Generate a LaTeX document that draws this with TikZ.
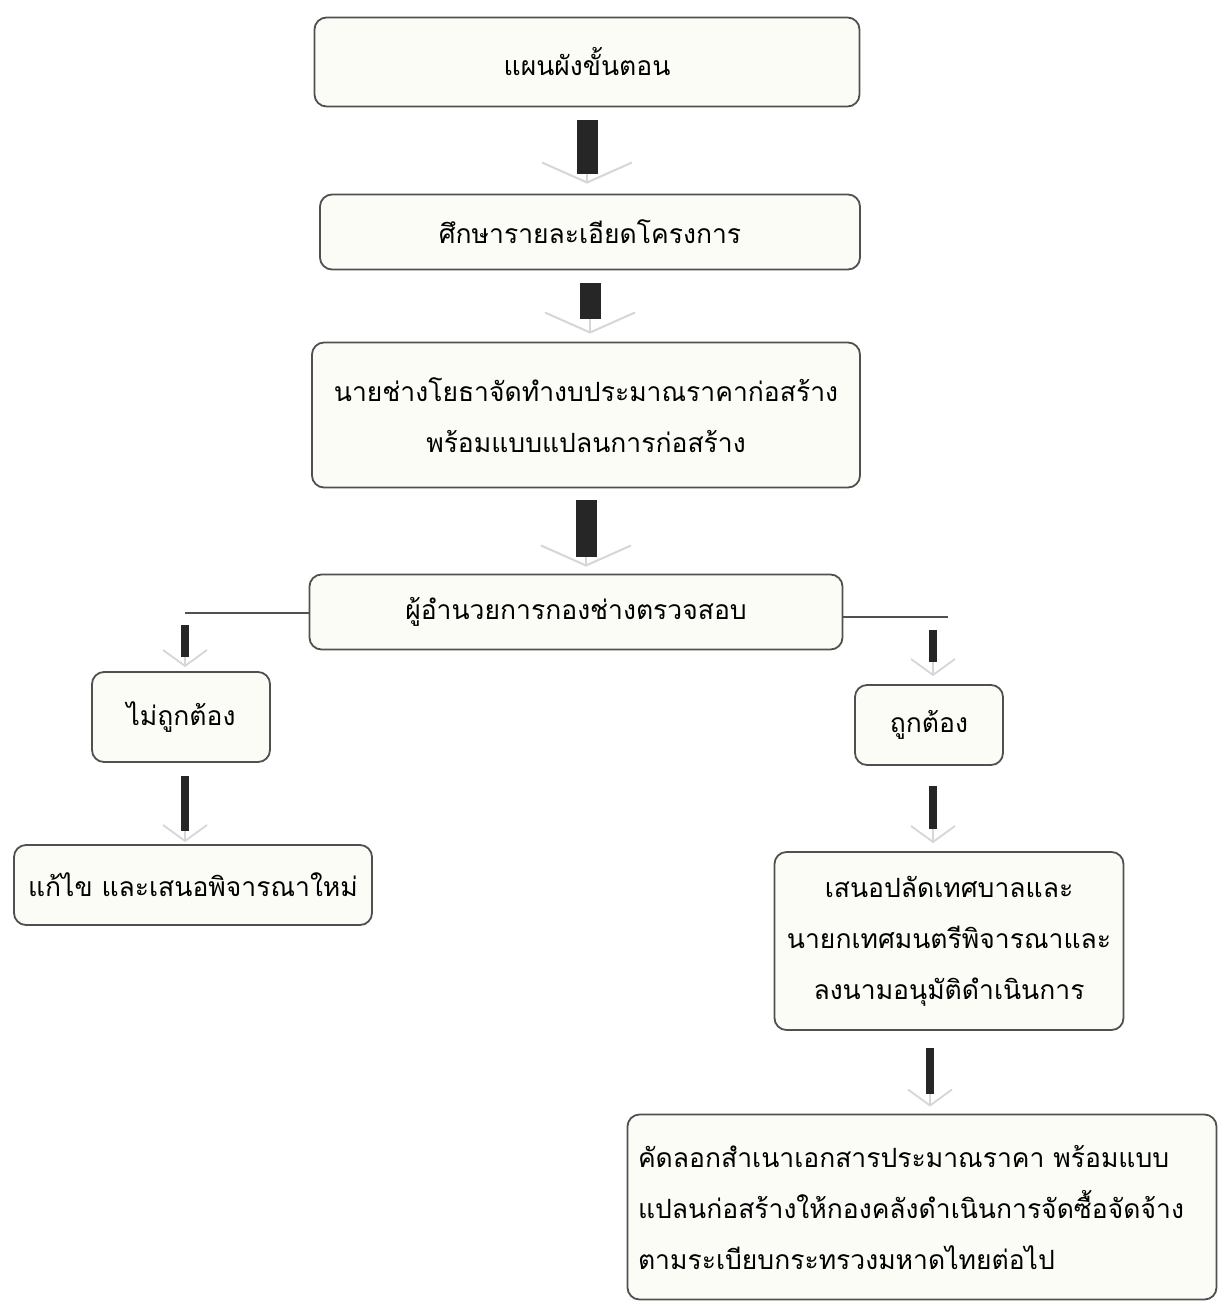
\documentclass[tikz,border=0pt]{standalone}
\usepackage{fontspec}
\newfontfamily\thai[Script=Thai]{Loma}
\usetikzlibrary{arrows.meta}
\definecolor{boxfill}{HTML}{FCFCF6}
\definecolor{boxline}{HTML}{505050}
\definecolor{chevgray}{HTML}{D6D6D6}
\tikzset{
  box/.style={draw=boxline, line width=1.8pt, fill=boxfill, rounded corners=12pt,
    font=\thai\fontsize{26.5}{51}\selectfont, align=center, inner sep=0pt},
  bigbar/.style={draw=black!85, line width=21pt},
  smallbar/.style={draw=black!85, line width=7.5pt},
  bigchev/.style={draw=chevgray, line width=1.5pt, -{Straight Barb[length=20pt,width=90pt,line width=2pt]}},
  smallchev/.style={draw=chevgray, line width=1.2pt, -{Straight Barb[length=16pt,width=44pt,line width=1.8pt]}},
  joinline/.style={draw=boxline, line width=1.8pt}
}
\begin{document}
\begin{tikzpicture}[x=1pt,y=-1pt]
\useasboundingbox (0,0) rectangle (1218,1309);
\fill[white] (0,0) rectangle (1218,1309);

\node[box, minimum width=545pt, minimum height=89pt] (b1) at (587,62) {แผนผังขั้นตอน};
\node[box, minimum width=540pt, minimum height=75pt] (b2) at (590,232) {ศึกษารายละเอียดโครงการ};
\node[box, minimum width=548pt, minimum height=145pt] (b3) at (586,415) {นายช่างโยธาจัดทำงบประมาณราคาก่อสร้าง\\พร้อมแบบแปลนการก่อสร้าง};
\node[box, minimum width=533pt, minimum height=75pt] (b4) at (576,612) {ผู้อำนวยการกองช่างตรวจสอบ};
\node[box, minimum width=178pt, minimum height=90pt] (b5) at (181,717) {ไม่ถูกต้อง};
\node[box, minimum width=358pt, minimum height=80pt] (b6) at (193,885) {แก้ไข และเสนอพิจารณาใหม่};
\node[box, minimum width=148pt, minimum height=80pt] (b7) at (929,725) {ถูกต้อง};
\node[box, minimum width=349pt, minimum height=178pt] (b8) at (949,941) {เสนอปลัดเทศบาลและ\\นายกเทศมนตรีพิจารณาและ\\ลงนามอนุมัติดำเนินการ};
\node[box, minimum width=589pt, minimum height=185pt, align=left, text width=568pt] (b9) at (922,1207) {คัดลอกสำเนาเอกสารประมาณราคา พร้อมแบบ\\แปลนก่อสร้างให้กองคลังดำเนินการจัดซื้อจัดจ้าง\\ตามระเบียบกระทรวงมหาดไทยต่อไป};

\coordinate (lj) at (185,613);
\coordinate (rj) at (948,617);
\coordinate (rb) at (933,617);
\coordinate (lb) at (930,1070);

% big arrows
\draw[bigchev, shorten <=13pt, shorten >=10pt] (b1.south) -- (b1.south |- b2.north);
\draw[bigbar, shorten <=13pt, shorten >=20pt] (b1.south) -- (b1.south |- b2.north);
\draw[bigchev, shorten <=13pt, shorten >=8pt] (b2.south) -- (b2.south |- b3.north);
\draw[bigbar, shorten <=13pt, shorten >=23pt] (b2.south) -- (b2.south |- b3.north);
\draw[bigchev, shorten <=12pt, shorten >=7pt] (b3.south) -- (b3.south |- b4.north);
\draw[bigbar, shorten <=12pt, shorten >=17pt] (b3.south) -- (b3.south |- b4.north);

% split
\draw[joinline] (b4.west |- lj) -- (lj);
\draw[joinline] (b4.east |- rj) -- (rj);

\draw[smallchev, shorten <=12pt, shorten >=4pt] (lj) -- (lj |- b5.north);
\draw[smallbar, shorten <=12pt, shorten >=14pt] (lj) -- (lj |- b5.north);
\draw[smallchev, shorten <=13pt, shorten >=8pt] (rb) -- (rb |- b7.north);
\draw[smallbar, shorten <=13pt, shorten >=22pt] (rb) -- (rb |- b7.north);

\draw[smallchev, shorten <=13pt, shorten >=2pt] (b5.south -| lj) -- (b6.north -| lj);
\draw[smallbar, shorten <=13pt, shorten >=13pt] (b5.south -| lj) -- (b6.north -| lj);
\draw[smallchev, shorten <=20pt, shorten >=8pt] (b7.south -| rb) -- (b8.north -| rb);
\draw[smallbar, shorten <=20pt, shorten >=22pt] (b7.south -| rb) -- (b8.north -| rb);
\draw[smallchev, shorten <=17pt, shorten >=7pt] (b8.south -| lb) -- (b9.north -| lb);
\draw[smallbar, shorten <=17pt, shorten >=20pt] (b8.south -| lb) -- (b9.north -| lb);
\end{tikzpicture}
\end{document}
